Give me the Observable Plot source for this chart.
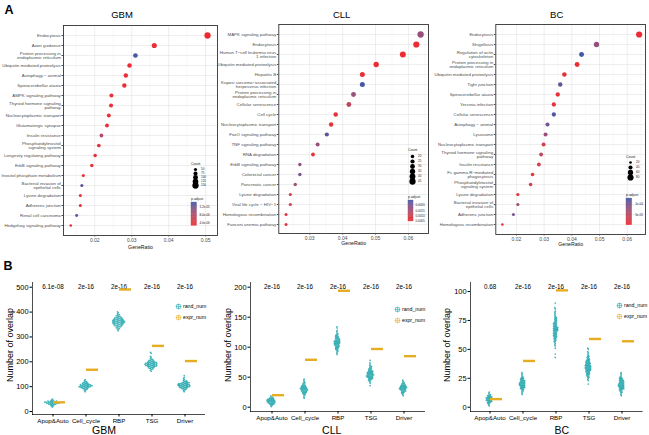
<!DOCTYPE html>
<html><head><meta charset="utf-8">
<script src="https://cdn.jsdelivr.net/npm/d3@7"></script>
<script src="https://cdn.jsdelivr.net/npm/@observablehq/plot@0.6"></script>
<style>
html,body{margin:0;padding:0;background:#fff}
#root{position:relative;width:649px;height:435px;overflow:hidden;font-family:'Liberation Sans',Arial,sans-serif}
.t{position:absolute;white-space:nowrap;line-height:1;transform:translate(-50%,-50%);color:#000}
</style></head><body><div id="root"></div>
<script>
// ---------- Panel A data ----------
const gbmPath = ["Endocytosis","Axon guidance","Protein processing in\nendoplasmic reticulum","Ubiquitin mediated proteolysis","Autophagy − animal","Spinocerebellar ataxia","AMPK signaling pathway","Thyroid hormone signaling\npathway","Nucleocytoplasmic transport","Glutamatergic synapse","Insulin resistance","Phosphatidylinositol\nsignaling system","Longevity regulating pathway","ErbB signaling pathway","Inositol phosphate metabolism","Bacterial invasion of\nepithelial cells","Lysine degradation","Adherens junction","Renal cell carcinoma","Hedgehog signaling pathway"];
const gbmRatio = [0.0505,0.0361,0.0310,0.0294,0.0284,0.0280,0.0245,0.0244,0.0238,0.0233,0.0218,0.0211,0.0201,0.0192,0.0169,0.0165,0.0161,0.0161,0.0151,0.0135];
const gbmCount = [150,107,92,87,84,83,73,72,71,69,65,63,60,57,50,49,48,48,45,40];
const gbmPadj = [3.0e-6,3.2e-6,1.40e-5,3.1e-6,3.3e-6,3.2e-6,3.4e-6,3.3e-6,3.5e-6,3.4e-6,7.5e-6,3.8e-6,3.6e-6,3.4e-6,3.6e-6,1.35e-5,3.5e-6,3.6e-6,1.38e-5,3.9e-6];
const gbmSizeKeys = [50,75,100,125,150];
const gbmPadjTicks = [1.2e-5,8e-6,4e-6];
const gbmPadjLabels = ["1.2e-05","8.0e-06","4.0e-06"];

const cllPath = ["MAPK signaling pathway","Endocytosis","Human T−cell leukemia virus\n1 infection","Ubiquitin mediated proteolysis","Hepatitis B","Kaposi sarcoma−associated\nherpesvirus infection","Protein processing in\nendoplasmic reticulum","Cellular senescence","Cell cycle","Nucleocytoplasmic transport","FoxO signaling pathway","TNF signaling pathway","RNA degradation","ErbB signaling pathway","Colorectal cancer","Pancreatic cancer","Lysine degradation","Viral life cycle − HIV−1","Homologous recombination","Fanconi anemia pathway"];
const cllRatio = [0.0637,0.0624,0.0583,0.0502,0.0460,0.0460,0.0433,0.0419,0.0379,0.0365,0.0352,0.0324,0.0310,0.0270,0.0270,0.0256,0.0241,0.0241,0.0228,0.0228];
const cllCount = [45,44,41,35,32,32,31,30,27,26,25,23,22,19,19,18,17,17,16,16];
const cllPadj = [0.0017,0.0005,0.0005,0.0005,0.0006,0.0024,0.0017,0.0012,0.0006,0.0006,0.0023,0.0017,0.0006,0.0018,0.0020,0.0016,0.0009,0.0011,0.0006,0.0006];
const cllSizeKeys = [20,25,30,35,40,45];
const cllPadjTicks = [0.0020,0.0015,0.0010,0.0005];
const cllPadjLabels = ["0.0020","0.0015","0.0010","0.0005"];

const bcPath = ["Endocytosis","Shigellosis","Regulation of actin\ncytoskeleton","Protein processing in\nendoplasmic reticulum","Ubiquitin mediated proteolysis","Tight junction","Spinocerebellar ataxia","Yersinia infection","Cellular senescence","Autophagy − animal","Lysosome","Nucleocytoplasmic transport","Thyroid hormone signaling\npathway","Insulin resistance","Fc gamma R−mediated\nphagocytosis","Phosphatidylinositol\nsignaling system","Lysine degradation","Bacterial invasion of\nepithelial cells","Adherens junction","Homologous recombination"];
const bcRatio = [0.0643,0.0489,0.0435,0.0419,0.0373,0.0358,0.0349,0.0335,0.0335,0.0312,0.0305,0.0298,0.0289,0.0281,0.0258,0.0251,0.0205,0.0205,0.0189,0.0149];
const bcCount = [80,61,54,52,46,45,43,42,42,39,38,37,36,35,32,31,26,26,24,19];
const bcPadj = [2e-6,8e-5,1.25e-4,5e-6,5e-6,1.1e-4,8e-6,1e-5,1.2e-4,1.05e-4,7.5e-5,3e-5,5e-5,3e-5,1.5e-5,3e-5,8e-6,7.5e-5,1e-4,8e-6];
const bcSizeKeys = [20,40,60,80];
const bcPadjTicks = [1e-4,5e-5];
const bcPadjLabels = ["1e-04","5e-05"];

// ---------- Panel B data (random overlaps as frequency tables: first value, bin width, counts) ----------
const cats = ["Apop&Auto","Cell_cycle","RBP","TSG","Driver"];
const groups = ["rand_num","expr_num"];

const gbmBin = 4;
const gbmRandStart = [18, 80, 325, 162, 80];
const gbmRandFreq = [
 [1,2,3,6,8,8,5,2,1],
 [1,1,2,3,5,7,7,6,4,3,2,1,1],
 [1,1,2,2,3,4,5,6,7,7,7,6,5,4,3,2,2,1,1,1],
 [1,1,2,3,4,6,7,7,7,6,4,3,2,1,1,1,0,0,1,1],
 [1,1,2,3,5,6,7,7,6,5,3,2,1,1,1,0,1]];
const gbmExpr = [37,168,491,264,203];
const gbmP = ["6.1e-08","2e-16","2e-16","2e-16","2e-16"];

const cllBin = 2;
const cllRandStart = [1, 15, 88, 36, 19];
const cllRandFreq = [
 [1,2,4,6,7,7,6,4,2,1],
 [1,1,1,2,3,4,5,6,6,5,4,3,2,2,1,1,1],
 [1,1,1,2,2,3,3,4,4,5,5,5,4,4,3,3,2,2,1,1,1,0,1,1],
 [1,0,1,1,2,3,4,5,6,6,5,5,4,3,3,2,2,1,1,1,0,1],
 [1,1,2,3,4,5,6,6,5,4,3,2,1,1]];
const cllExpr = [20,79,194,97,85];
const cllP = ["2e-16","2e-16","2e-16","2e-16","2e-16"];

const bcBin = 1;
const bcRandStart = [1, 11, 43, 20, 10];
const bcRandFreq = [
 [1,1,2,3,4,5,6,5,4,3,2,1,1],
 [1,1,1,2,2,3,4,4,5,5,5,4,4,3,3,2,1,1,1,1],
 [1,0,0,1,0,0,0,0,1,0,1,1,1,1,2,2,2,2,3,3,3,3,3,4,4,4,4,3,3,3,3,2,2,2,2,2,1,1,1,1,1,0,1,1,0,0,0,1],
 [1,0,0,1,1,1,2,2,3,3,3,4,4,5,5,5,5,4,4,4,3,3,2,2,2,1,1,1,1,0,1,1],
 [1,1,1,2,2,3,4,4,5,5,5,4,4,4,3,3,2,1,1,1,1]];
const bcExpr = [7,40,101,59,57];
const bcP = ["0.68","2e-16","2e-16","2e-16","2e-16"];

// ---------- helpers ----------
const FONT = "'Liberation Sans', Arial, sans-serif";
const RED = "#EE2A32", BLUE = "#3A57A7", TEAL = "#17A3A9", ORANGE = "#E6AC22";
const root = document.getElementById("root");
function put(el, left, top) {
  el.style.position = "absolute"; el.style.left = left + "px"; el.style.top = top + "px";
  root.appendChild(el); return el;
}
function label(txt, x, y, size, extra = "") {
  const d = document.createElement("div");
  d.className = "t"; d.textContent = txt;
  d.style.cssText += `left:${x}px;top:${y}px;font-size:${size}px;${extra}`;
  root.appendChild(d);
}
function fontFix(svg, aria, size) {
  svg.querySelectorAll(`g[aria-label="${aria}"]`).forEach(g => { g.setAttribute("font-size", size); g.style.fontSize = size + "px"; });
}
const baseStyle = (size, color) => ({fontFamily: FONT, fontSize: size + "px", color, background: "transparent", overflow: "visible"});

function dotPanel(c) {
  const data = c.names.map((name, i) => ({name, ratio: c.ratio[i], count: c.count[i], padj: c.padj[i]}));
  const rOpts = {type: "sqrt", domain: c.rDomain, range: c.rRange};
  const colorOpts = {type: "linear", domain: c.padjDomain, range: [RED, BLUE], interpolate: d3.interpolateLab};
  const svg = Plot.plot({
    width: c.w, height: c.h, marginLeft: c.ml, marginRight: c.mr, marginTop: c.mt, marginBottom: c.mb,
    style: baseStyle(4.4, "#4d4d4d"),
    x: {domain: c.xDomain},
    y: {type: "point", domain: c.names, padding: 0.6},
    r: rOpts, color: colorOpts,
    marks: [
      Plot.gridX(c.minor, {stroke: "#f1f1f1", strokeOpacity: 1, strokeWidth: 0.4}),
      Plot.gridX(c.xTicks, {stroke: "#e2e2e2", strokeOpacity: 1, strokeWidth: 0.6}),
      Plot.gridY(c.names, {stroke: "#e2e2e2", strokeOpacity: 1, strokeWidth: 0.6}),
      Plot.dot(data, {x: "ratio", y: "name", r: "count", fill: "padj"}),
      Plot.frame({stroke: "#333", strokeWidth: 0.9}),
      Plot.axisX(c.xTicks, {tickSize: 1.5, tickPadding: 1, tickFormat: d3.format(".2f"), label: null}),
      Plot.axisY(c.names, {tickSize: 1.5, tickPadding: 1.2, label: null}),
      Plot.text(["GeneRatio"], {frameAnchor: "bottom", dy: c.labDy, fontSize: 5.2, fill: "#111"})
    ]
  });
  fontFix(svg, "x-axis tick label", 5);
  fontFix(svg, "y-axis tick label", 4.4);
  put(svg, c.left, 0);
  label(c.title, c.titleX, 15, 9.5);
  // size legend
  const L = c.size;
  const n = c.sizeKeys.length;
  const sMt = L.dot0 - L.titleY + 3;
  const sLeg = Plot.plot({
    width: 26, height: sMt + (n - 1) * L.step + 4, marginLeft: 0, marginRight: 0, marginTop: sMt, marginBottom: 4,
    style: baseStyle(3, "#222"),
    x: {axis: null}, y: {type: "point", domain: c.sizeKeys, axis: null, padding: 0}, r: rOpts,
    marks: [
      Plot.text(["Count"], {frameAnchor: "top-left", dx: 0.5, dy: -(L.dot0 - L.titleY), textAnchor: "start", fontSize: 3.5}),
      Plot.dot(c.sizeKeys, {y: d => d, r: d => d, fill: "#000", frameAnchor: "left", dx: 5}),
      Plot.text(c.sizeKeys, {y: d => d, text: d => String(d), frameAnchor: "left", dx: 5 + L.labDx, textAnchor: "start", fontSize: 3})
    ]
  });
  put(sLeg, L.dotX - 5, L.titleY - 3);
  // colour legend
  const C = c.col;
  const [lo, hi] = c.padjDomain;
  const slices = d3.range(40).map(i => [lo + (hi - lo) * i / 40, lo + (hi - lo) * (i + 1) / 40]);
  const cMt = C.barTop - C.titleY + 3;
  const cLeg = Plot.plot({
    width: C.barW + 25, height: cMt + C.barH + 2, marginLeft: 0, marginRight: 25, marginTop: cMt, marginBottom: 2,
    style: baseStyle(3, "#222"),
    x: {axis: null}, y: {domain: c.padjDomain, axis: null}, color: colorOpts,
    marks: [
      Plot.barY(slices, {y1: d => d[0], y2: d => d[1], fill: d => (d[0] + d[1]) / 2, stroke: d => (d[0] + d[1]) / 2, strokeWidth: 0.3}),
      Plot.text(["p.adjust"], {frameAnchor: "top-left", dx: -0.5, dy: -(C.barTop - C.titleY), textAnchor: "start", fontSize: 3.5}),
      Plot.text(c.padjTicks, {y: d => d, text: (d, i) => c.padjLabels[i], frameAnchor: "right", dx: C.labDx, textAnchor: "start", fontSize: 3})
    ]
  });
  put(cLeg, C.barX, C.titleY - 3);
}

function boxPanel(c) {
  const randData = c.freq.flatMap((f, i) => f.flatMap((cnt, k) =>
    d3.range(cnt).map(() => ({cat: cats[i], group: "rand_num", v: c.start[i] + k * c.bin}))));
  const exprData = c.expr.map((v, i) => ({cat: cats[i], group: "expr_num", v}));
  const dims = {width: c.w, height: c.h, marginLeft: c.ml, marginRight: c.mr, marginTop: c.mt, marginBottom: c.mb};
  const OUT = 0.1; // ggplot's 0.6-unit discrete expansion
  const base = Plot.plot({
    ...dims, style: baseStyle(7, "#000"),
    x: {type: "band", domain: cats, paddingInner: 0, paddingOuter: OUT},
    y: {domain: c.yDomain},
    marks: [
      Plot.frame({anchor: "left", stroke: "#000", strokeWidth: 0.7}),
      Plot.frame({anchor: "bottom", stroke: "#000", strokeWidth: 0.7}),
      Plot.axisY(c.yTicks, {tickSize: 2.5, tickPadding: 1.5, label: null}),
      Plot.axisX(cats, {tickSize: 2.5, tickPadding: 1.5, label: null}),
      Plot.text(c.pvals, {x: (d, i) => cats[i], text: d => d, frameAnchor: "top", dy: 2, fontSize: 6.3})
    ]
  });
  fontFix(base, "x-axis tick label", 6.2);
  fontFix(base, "y-axis tick label", 7.4);
  put(base, c.left, c.top);
  const PI = 0.05, PO = 0.25;
  const facetW = (c.w - c.ml - c.mr) / (cats.length + 2 * OUT);
  const sub = facetW / (2 - PI + 2 * PO);
  const over = Plot.plot({
    ...dims, style: baseStyle(7, "#000"),
    fx: {domain: cats, paddingInner: 0, paddingOuter: OUT, axis: null, label: null},
    x: {domain: groups, paddingInner: PI, paddingOuter: PO, axis: null},
    y: {domain: c.yDomain, axis: null},
    marks: [
      Plot.ruleX(randData, Plot.groupX({y1: "min", y2: "max"}, {fx: "cat", x: "group", stroke: TEAL, strokeWidth: 0.7})),
      Plot.barY(randData, Plot.groupX({y1: "p25", y2: "p75"}, {fx: "cat", x: "group", fill: "white", stroke: TEAL, strokeWidth: 0.9})),
      Plot.dot(randData, Plot.dodgeX({anchor: "middle", padding: -0.45}, {fx: "cat", y: "v", r: 0.85, fill: TEAL, fillOpacity: 0.8, dx: -sub / 2})),
      Plot.barY(randData, Plot.groupX({y1: "p25", y2: "p75"}, {fx: "cat", x: "group", fill: "none", stroke: TEAL, strokeWidth: 0.9})),
      Plot.tickY(randData, Plot.groupX({y: "median"}, {fx: "cat", x: "group", stroke: TEAL, strokeWidth: 0.9})),
      Plot.tickY(exprData, {fx: "cat", x: "group", y: "v", stroke: ORANGE, strokeWidth: 2.4})
    ]
  });
  put(over, c.left, c.top);
  // legend
  const leg = Plot.plot({
    width: 45, height: 22, margin: 0, style: baseStyle(5.2, "#000"),
    x: {axis: null}, y: {type: "point", domain: groups, axis: null, padding: 0.5},
    color: {domain: groups, range: [TEAL, ORANGE]},
    marks: [
      Plot.dot(groups, {y: d => d, symbol: "square", r: 2.1, stroke: d => d, fill: "white", strokeWidth: 0.6, frameAnchor: "left", dx: 3}),
      Plot.dot(groups, {y: d => d, symbol: "plus", r: 2.1, stroke: d => d, strokeWidth: 0.5, frameAnchor: "left", dx: 3}),
      Plot.text(groups, {y: d => d, text: d => d, frameAnchor: "left", dx: 7.5, textAnchor: "start", fontSize: 5.2})
    ]
  });
  put(leg, c.legX - 3, c.legY - 5.5);
  label(c.title, c.titleX, 430, 10.5);
  label("Number of overlap", c.yLabX, 345, 9, "transform:translate(-50%,-50%) rotate(-90deg)");
}

// ---------- draw ----------
label("A", 9, 10, 12.5, "font-weight:bold");
label("B", 8, 266, 12.5, "font-weight:bold");

dotPanel({names: gbmPath, ratio: gbmRatio, count: gbmCount, padj: gbmPadj, title: "GBM", titleX: 122,
  left: 0, w: 219, h: 255, ml: 63, mr: 2, mt: 25, mb: 20, labDy: 13.3,
  xDomain: [0.01154, 0.0532], xTicks: [0.02, 0.03, 0.04, 0.05], minor: [0.015, 0.025, 0.035, 0.045],
  rDomain: [40, 150], rRange: [1.35, 3.15], padjDomain: [2.85e-6, 1.45e-5],
  sizeKeys: gbmSizeKeys, padjTicks: gbmPadjTicks, padjLabels: gbmPadjLabels,
  size: {dotX: 195, titleY: 162, dot0: 167.7, step: 4.5, labDx: 5.5},
  col: {barX: 191, barW: 5.5, titleY: 196.7, barTop: 201.7, barH: 23.3, labDx: 2.5}});

dotPanel({names: cllPath, ratio: cllRatio, count: cllCount, padj: cllPadj, title: "CLL", titleX: 341.7,
  left: 214, w: 215, h: 255, ml: 64.3, mr: 1, mt: 24, mb: 22, labDy: 11.3,
  xDomain: [0.0206, 0.0661], xTicks: [0.03, 0.04, 0.05, 0.06], minor: [0.025, 0.035, 0.045, 0.055, 0.065],
  rDomain: [16, 45], rRange: [1.5, 3.15], padjDomain: [0.00047, 0.00248],
  sizeKeys: cllSizeKeys, padjTicks: cllPadjTicks, padjLabels: cllPadjLabels,
  size: {dotX: 411.7, titleY: 148.3, dot0: 154, step: 5.85, labDx: 5.5},
  col: {barX: 408.3, barW: 5, titleY: 195, barTop: 200, barH: 21, labDx: 2}});

dotPanel({names: bcPath, ratio: bcRatio, count: bcCount, padj: bcPadj, title: "BC", titleX: 556.7,
  left: 430, w: 219, h: 255, ml: 65.3, mr: 4, mt: 24, mb: 21, labDy: 11.7,
  xDomain: [0.01253, 0.0666], xTicks: [0.02, 0.03, 0.04, 0.05, 0.06], minor: [0.015, 0.025, 0.035, 0.045, 0.055, 0.065],
  rDomain: [19, 80], rRange: [1.3, 3.1], padjDomain: [1e-6, 1.28e-4],
  sizeKeys: bcSizeKeys, padjTicks: bcPadjTicks, padjLabels: bcPadjLabels,
  size: {dotX: 630, titleY: 155, dot0: 161, step: 5.8, labDx: 5.5},
  col: {barX: 626, barW: 5.7, titleY: 193.3, barTop: 198.3, barH: 26.7, labDx: 3}});

boxPanel({start: gbmRandStart, freq: gbmRandFreq, bin: gbmBin, expr: gbmExpr, pvals: gbmP, yDomain: [-12, 519], yTicks: [0, 100, 200, 300, 400, 500],
  left: 0, top: 270, w: 215, h: 165, ml: 32, mr: 11, mt: 12, mb: 21,
  legX: 178, legY: 305.5, title: "GBM", titleX: 104, yLabX: 10});
boxPanel({start: cllRandStart, freq: cllRandFreq, bin: cllBin, expr: cllExpr, pvals: cllP, yDomain: [-7.2, 207.8], yTicks: [0, 50, 100, 150, 200],
  left: 215, top: 270, w: 215, h: 165, ml: 35, mr: 6, mt: 12, mb: 24,
  legX: 396.7, legY: 308, title: "CLL", titleX: 331.7, yLabX: 228.3});
boxPanel({start: bcRandStart, freq: bcRandFreq, bin: bcBin, expr: bcExpr, pvals: bcP, yDomain: [-3.7, 107.8], yTicks: [0, 25, 50, 75, 100],
  left: 430, top: 270, w: 219, h: 165, ml: 40, mr: 7.4, mt: 12, mb: 24,
  legX: 619, legY: 304.3, title: "BC", titleX: 561.7, yLabX: 446.7});
</script></body></html>
